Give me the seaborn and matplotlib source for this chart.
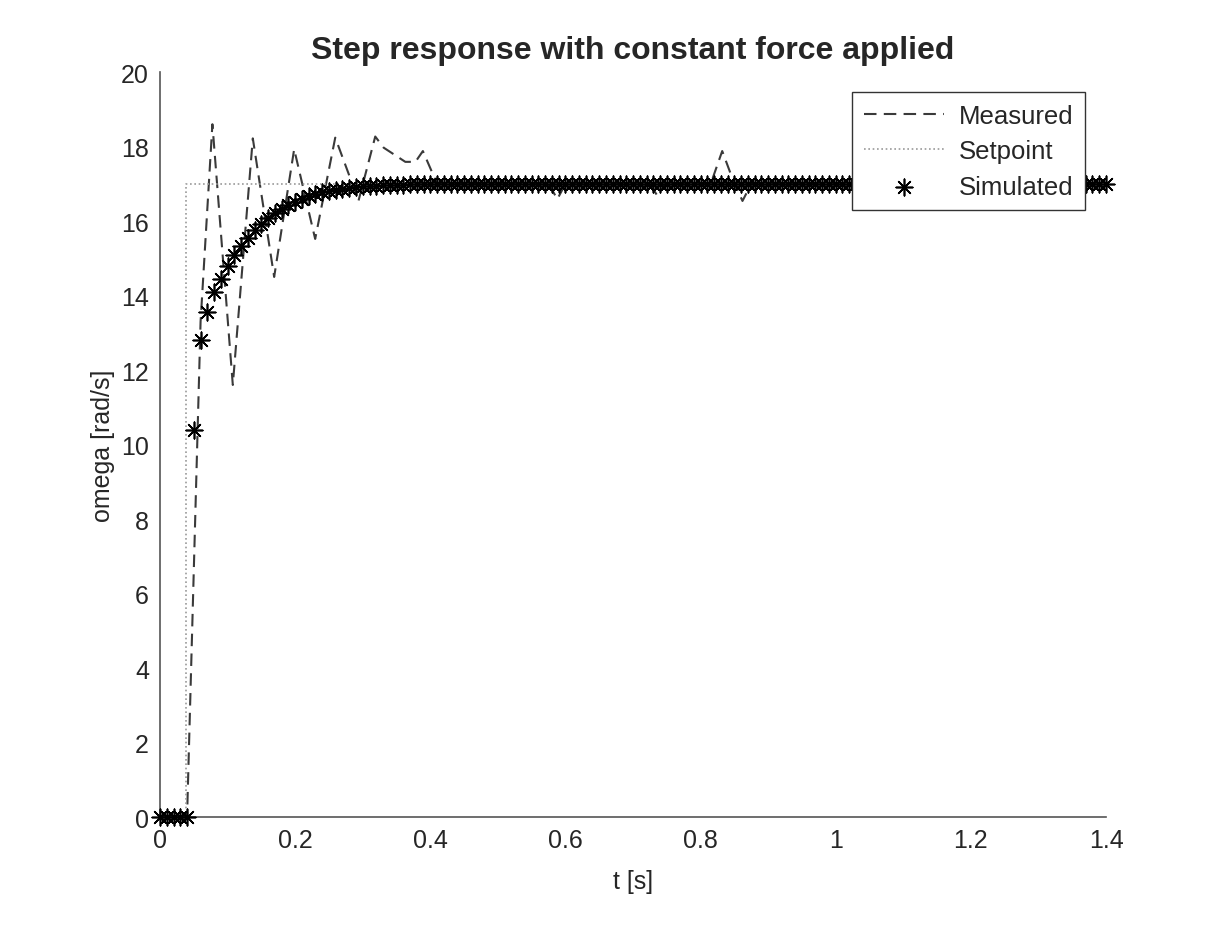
import numpy as np
import pandas as pd
import seaborn as sns
import matplotlib.pyplot as plt

# measured response (vertices of the dashed line)
meas_t = [0.0, 0.04, 0.06, 0.0775, 0.1077, 0.1373, 0.1689, 0.1985, 0.2296, 0.2593,
          0.2938, 0.3185, 0.331, 0.363, 0.378, 0.389, 0.41, 0.575, 0.588, 0.60,
          0.725, 0.736, 0.748, 0.815, 0.832, 0.848, 0.862, 0.875, 1.4]
meas_omega = [0.0, 0.0, 13.3, 18.6, 11.6, 18.22, 14.5, 17.93, 15.52, 18.24,
              16.55, 18.27, 17.97, 17.59, 17.59, 17.88, 17.0, 17.0, 16.59, 17.0,
              17.0, 16.68, 17.0, 17.0, 17.88, 17.1, 16.54, 17.0, 17.0]

# setpoint step
set_t = [0.0, 0.038, 0.038, 1.4]
set_omega = [0.0, 0.0, 17.0, 17.0]

# simulated response, one value every 10 ms
sim_dt = 0.01
sim_omega = [0.0, 0.0, 0.0, 0.0, 0.0, 10.4, 12.8, 13.55, 14.1, 14.45,
             14.8, 15.08, 15.33, 15.55, 15.75, 15.93, 16.08, 16.21, 16.33, 16.43,
             16.52, 16.59, 16.66, 16.72, 16.77, 16.81, 16.84, 16.87, 16.89, 16.91,
             16.93, 16.94, 16.95, 16.96, 16.97, 16.98, 16.98, 16.99, 16.99, 16.99,
             17.0, 17.0, 17.0, 17.0, 17.0, 17.0, 17.0, 17.0, 17.0, 17.0,
             17.0, 17.0, 17.0, 17.0, 17.0, 17.0, 17.0, 17.0, 17.0, 17.0,
             17.0, 17.0, 17.0, 17.0, 17.0, 17.0, 17.0, 17.0, 17.0, 17.0,
             17.0, 17.0, 17.0, 17.0, 17.0, 17.0, 17.0, 17.0, 17.0, 17.0,
             17.0, 17.0, 17.0, 17.0, 17.0, 17.0, 17.0, 17.0, 17.0, 17.0,
             17.0, 17.0, 17.0, 17.0, 17.0, 17.0, 17.0, 17.0, 17.0, 17.0,
             17.0, 17.0, 17.0, 17.0, 17.0, 17.0, 17.0, 17.0, 17.0, 17.0,
             17.0, 17.0, 17.0, 17.0, 17.0, 17.0, 17.0, 17.0, 17.0, 17.0,
             17.0, 17.0, 17.0, 17.0, 17.0, 17.0, 17.0, 17.0, 17.0, 17.0,
             17.0, 17.0, 17.0, 17.0, 17.0, 17.0, 17.0, 17.0, 17.0, 17.0,
             17.0]
sim_t = np.round(np.arange(len(sim_omega)) * sim_dt, 2)

x_ticks = [0, 0.2, 0.4, 0.6, 0.8, 1, 1.2, 1.4]
x_tick_labels = ['0', '0.2', '0.4', '0.6', '0.8', '1', '1.2', '1.4']
y_ticks = [0, 2, 4, 6, 8, 10, 12, 14, 16, 18, 20]

sns.set_style('white')
plt.rcParams['font.family'] = ['Liberation Sans', 'DejaVu Sans']

fig = plt.figure(figsize=(12.17, 9.37), dpi=100)
ax = fig.add_axes([0.1315, 0.127, 0.7773, 0.795])

sns.lineplot(x=meas_t, y=meas_omega, ax=ax, color='#3a3a3a', linewidth=1.5,
             estimator=None, label='Measured', sort=False)
ax.lines[-1].set_dashes((6, 3.5))
sns.lineplot(x=set_t, y=set_omega, ax=ax, color='#999999', linewidth=1.2,
             estimator=None, label='Setpoint', sort=False)
ax.lines[-1].set_dashes((1, 1.6))
sns.scatterplot(x=sim_t, y=sim_omega, ax=ax, marker=(8, 2, 0), s=140,
                color='black', linewidth=1.2, label='Simulated', zorder=3)

ax.set_xlim(0, 1.4)
ax.set_ylim(0, 20)
ax.set_xticks(x_ticks)
ax.set_xticklabels(x_tick_labels)
ax.set_yticks(y_ticks)
ax.tick_params(direction='in', length=7, width=1, color='#555555',
               labelsize=18, labelcolor='#262626', pad=8)
for side in ['top', 'right']:
    ax.spines[side].set_visible(False)
for side in ['left', 'bottom']:
    ax.spines[side].set_color('#555555')
    ax.spines[side].set_linewidth(1.2)
for coll in ax.collections:
    coll.set_clip_on(False)

ax.set_xlabel('t [s]', fontsize=18, color='#262626', labelpad=12)
ax.set_ylabel('omega [rad/s]', fontsize=18, color='#262626', labelpad=4)
ax.set_title('Step response with constant force applied', fontsize=23,
             fontweight='bold', pad=10)

leg = ax.legend(loc='upper right', bbox_to_anchor=(0.978, 0.973),
                borderaxespad=0, fontsize=18.5, frameon=True, fancybox=False,
                handlelength=3.1, handletextpad=0.6, labelspacing=0.45,
                borderpad=0.45)
leg.get_frame().set_edgecolor('#333333')
leg.get_frame().set_linewidth(1.0)
leg.get_frame().set_alpha(1)

fig.savefig('out.png', dpi=100)
plt.close()
